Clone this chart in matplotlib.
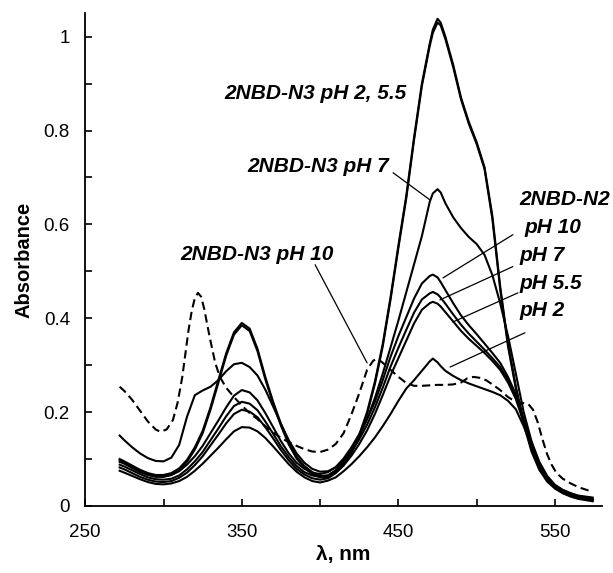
import numpy as np
import matplotlib
matplotlib.use('Agg')
import matplotlib.pyplot as plt
from matplotlib.ticker import MultipleLocator, FormatStrFormatter

plt.rcParams['font.family'] = ['Liberation Sans', 'DejaVu Sans']

# wavelength grid, nm
wl = [272, 275, 280, 285, 290, 295, 300, 305, 310, 315, 320, 325, 330, 335, 340,
      345, 350, 355, 360, 365, 370, 375, 380, 385, 390, 395, 400, 405, 410, 415,
      420, 425, 430, 435, 440, 445, 450, 455, 460, 465, 470, 472, 475, 477, 480,
      485, 490, 495, 500, 505, 510, 515, 520, 525, 530, 535, 540, 545, 550, 555,
      560, 565, 574]

# 2NBD-N3
n3_ph2 = [0.100, 0.095, 0.086, 0.077, 0.070, 0.066, 0.066, 0.070, 0.080, 0.098,
          0.125, 0.160, 0.210, 0.268, 0.325, 0.370, 0.390, 0.378, 0.335, 0.275,
          0.222, 0.175, 0.135, 0.105, 0.085, 0.072, 0.064, 0.065, 0.075, 0.092,
          0.118, 0.152, 0.200, 0.265, 0.345, 0.445, 0.555, 0.660, 0.785, 0.900,
          0.985, 1.015, 1.038, 1.030, 1.000, 0.940, 0.870, 0.818, 0.775, 0.722,
          0.618, 0.468, 0.345, 0.255, 0.180, 0.120, 0.080, 0.055, 0.040, 0.030,
          0.022, 0.017, 0.012]
n3_ph55 = [0.094, 0.090, 0.081, 0.072, 0.066, 0.062, 0.062, 0.066, 0.076, 0.094,
           0.120, 0.155, 0.205, 0.262, 0.320, 0.365, 0.385, 0.373, 0.330, 0.270,
           0.218, 0.171, 0.131, 0.101, 0.081, 0.068, 0.061, 0.062, 0.072, 0.089,
           0.114, 0.148, 0.196, 0.260, 0.340, 0.440, 0.550, 0.655, 0.780, 0.895,
           0.980, 1.008, 1.030, 1.024, 0.995, 0.935, 0.866, 0.814, 0.771, 0.718,
           0.612, 0.462, 0.340, 0.250, 0.175, 0.116, 0.077, 0.052, 0.037, 0.027,
           0.020, 0.015, 0.010]
n3_ph7 = [0.150, 0.140, 0.125, 0.112, 0.102, 0.096, 0.095, 0.103, 0.130, 0.190,
          0.236, 0.246, 0.254, 0.268, 0.287, 0.302, 0.305, 0.296, 0.278, 0.248,
          0.212, 0.175, 0.140, 0.112, 0.092, 0.079, 0.073, 0.074, 0.082, 0.097,
          0.118, 0.148, 0.185, 0.230, 0.282, 0.338, 0.395, 0.455, 0.515, 0.575,
          0.648, 0.666, 0.675, 0.668, 0.645, 0.615, 0.592, 0.573, 0.558, 0.535,
          0.492, 0.432, 0.362, 0.282, 0.200, 0.138, 0.092, 0.062, 0.044, 0.034,
          0.027, 0.021, 0.016]

# 2NBD-N3 pH 10 (dashed), own grid
wl_n3_ph10 = [272, 275, 280, 285, 290, 295, 298, 302, 306, 309, 312, 314, 316, 318,
              320, 322, 324, 326, 328, 330, 333, 336, 340, 345, 350, 355, 360, 365,
              370, 375, 380, 385, 390, 395, 400, 405, 410, 415, 420, 425, 430, 434,
              437, 440, 445, 450, 455, 460, 465, 470, 475, 480, 485, 490, 494, 498,
              502, 506, 510, 515, 520, 525, 530, 533, 536, 539, 542, 545, 548, 551,
              555, 560, 565, 574]
n3_ph10 = [0.254, 0.245, 0.226, 0.203, 0.180, 0.163, 0.158, 0.163, 0.183, 0.220,
           0.275, 0.325, 0.375, 0.415, 0.443, 0.454, 0.446, 0.420, 0.385, 0.352,
           0.305, 0.275, 0.252, 0.232, 0.214, 0.198, 0.185, 0.170, 0.157, 0.145,
           0.136, 0.128, 0.121, 0.116, 0.115, 0.120, 0.132, 0.155, 0.195, 0.240,
           0.290, 0.310, 0.313, 0.305, 0.290, 0.275, 0.262, 0.256, 0.256, 0.257,
           0.258, 0.258, 0.259, 0.263, 0.272, 0.275, 0.273, 0.268, 0.259, 0.247,
           0.232, 0.222, 0.219, 0.217, 0.205, 0.178, 0.142, 0.110, 0.087, 0.070,
           0.058, 0.048, 0.040, 0.030]

# 2NBD-N2
n2_ph10 = [0.098, 0.093, 0.084, 0.076, 0.069, 0.064, 0.063, 0.066, 0.074, 0.088,
           0.106, 0.128, 0.155, 0.182, 0.210, 0.235, 0.247, 0.242, 0.225, 0.198,
           0.168, 0.138, 0.112, 0.092, 0.079, 0.071, 0.068, 0.072, 0.083, 0.101,
           0.125, 0.153, 0.185, 0.222, 0.268, 0.318, 0.362, 0.402, 0.442, 0.474,
           0.490, 0.493, 0.487, 0.477, 0.460, 0.432, 0.406, 0.385, 0.366, 0.346,
           0.326, 0.305, 0.275, 0.238, 0.185, 0.135, 0.094, 0.064, 0.045, 0.034,
           0.027, 0.022, 0.018]
n2_ph7 = [0.088, 0.084, 0.076, 0.068, 0.061, 0.057, 0.056, 0.058, 0.065, 0.078,
          0.095, 0.115, 0.140, 0.165, 0.191, 0.213, 0.222, 0.218, 0.204, 0.180,
          0.154, 0.127, 0.104, 0.085, 0.072, 0.065, 0.062, 0.065, 0.076, 0.093,
          0.115, 0.142, 0.173, 0.210, 0.252, 0.297, 0.337, 0.375, 0.412, 0.440,
          0.453, 0.456, 0.451, 0.444, 0.431, 0.408, 0.386, 0.367, 0.350, 0.333,
          0.315, 0.296, 0.268, 0.232, 0.180, 0.131, 0.090, 0.060, 0.042, 0.031,
          0.024, 0.019, 0.015]
n2_ph55 = [0.082, 0.078, 0.070, 0.062, 0.056, 0.052, 0.051, 0.053, 0.060, 0.071,
           0.087, 0.106, 0.129, 0.152, 0.176, 0.196, 0.205, 0.201, 0.189, 0.168,
           0.144, 0.119, 0.097, 0.079, 0.067, 0.059, 0.056, 0.059, 0.070, 0.086,
           0.107, 0.132, 0.161, 0.196, 0.236, 0.278, 0.315, 0.352, 0.389, 0.418,
           0.432, 0.435, 0.431, 0.425, 0.413, 0.393, 0.373, 0.356, 0.341, 0.326,
           0.309, 0.290, 0.263, 0.228, 0.178, 0.129, 0.088, 0.058, 0.040, 0.029,
           0.022, 0.017, 0.013]
n2_ph2 = [0.075, 0.071, 0.064, 0.057, 0.051, 0.047, 0.046, 0.048, 0.053, 0.062,
          0.075, 0.090, 0.107, 0.124, 0.142, 0.159, 0.168, 0.167, 0.159, 0.145,
          0.127, 0.108, 0.089, 0.073, 0.061, 0.053, 0.050, 0.054, 0.061, 0.074,
          0.089, 0.106, 0.125, 0.146, 0.170, 0.196, 0.224, 0.250, 0.268, 0.288,
          0.308, 0.314, 0.306, 0.298, 0.288, 0.277, 0.268, 0.261, 0.255, 0.249,
          0.243, 0.236, 0.224, 0.206, 0.170, 0.127, 0.087, 0.057, 0.039, 0.028,
          0.021, 0.016, 0.012]

fig = plt.figure(figsize=(6.13, 5.73), dpi=100)
ax = fig.add_axes([0.139, 0.117, 0.843, 0.860])

lw = 1.5
for y in [n3_ph2, n3_ph55, n3_ph7, n2_ph10, n2_ph7, n2_ph55, n2_ph2]:
    ax.plot(wl, y, color='black', lw=lw, solid_joinstyle='round')
ax.plot(wl_n3_ph10, n3_ph10, color='black', lw=lw, linestyle=(0, (4, 2.2)))

ax.set_xlim(250, 580)
ax.set_ylim(0, 1.05)
ax.spines['top'].set_visible(False)
ax.spines['right'].set_visible(False)
for s in ['left', 'bottom']:
    ax.spines[s].set_linewidth(1.3)

ax.set_xticks([250, 350, 450, 550])
ax.set_xticks([300, 400, 500], minor=True)
ax.yaxis.set_major_locator(MultipleLocator(0.2))
ax.yaxis.set_minor_locator(MultipleLocator(0.1))
ax.yaxis.set_major_formatter(FormatStrFormatter('%g'))
ax.tick_params(which='both', direction='in', length=5, width=1.2)
ax.tick_params(axis='x', which='major', labelsize=13.5, pad=13)
ax.tick_params(axis='y', which='major', labelsize=13.5, pad=11)

ax.set_xlabel('λ, nm', fontsize=15, fontweight='bold', labelpad=3)
ax.set_ylabel('Absorbance', fontsize=14.5, fontweight='bold', labelpad=7)

tkw = dict(fontsize=15, fontweight='bold', fontstyle='italic')
akw = dict(arrowstyle='-', color='black', lw=0.9, shrinkA=0, shrinkB=0)

ax.text(397, 0.878, '2NBD-N3 pH 2, 5.5', ha='center', va='center', **tkw)
ax.text(399, 0.723, '2NBD-N3 pH 7', ha='center', va='center', **tkw)
ax.annotate('', xy=(470.2, 0.652), xytext=(446.6, 0.71), arrowprops=akw)
ax.text(360, 0.535, '2NBD-N3 pH 10', ha='center', va='center', **tkw)
ax.annotate('', xy=(430, 0.305), xytext=(396.8, 0.514), arrowprops=akw)

ax.text(527.5, 0.652, '2NBD-N2', ha='left', va='center', **tkw)
ax.text(530.5, 0.593, 'pH 10', ha='left', va='center', **tkw)
ax.text(527.5, 0.533, 'pH 7', ha='left', va='center', **tkw)
ax.text(527.5, 0.475, 'pH 5.5', ha='left', va='center', **tkw)
ax.text(527.5, 0.416, 'pH 2', ha='left', va='center', **tkw)
ax.annotate('', xy=(478.5, 0.486), xytext=(523.1, 0.578), arrowprops=akw)
ax.annotate('', xy=(476.5, 0.439), xytext=(523.1, 0.51), arrowprops=akw)
ax.annotate('', xy=(484.8, 0.392), xytext=(526.3, 0.454), arrowprops=akw)
ax.annotate('', xy=(483, 0.296), xytext=(530.8, 0.369), arrowprops=akw)

fig.savefig('out.png', dpi=100)
